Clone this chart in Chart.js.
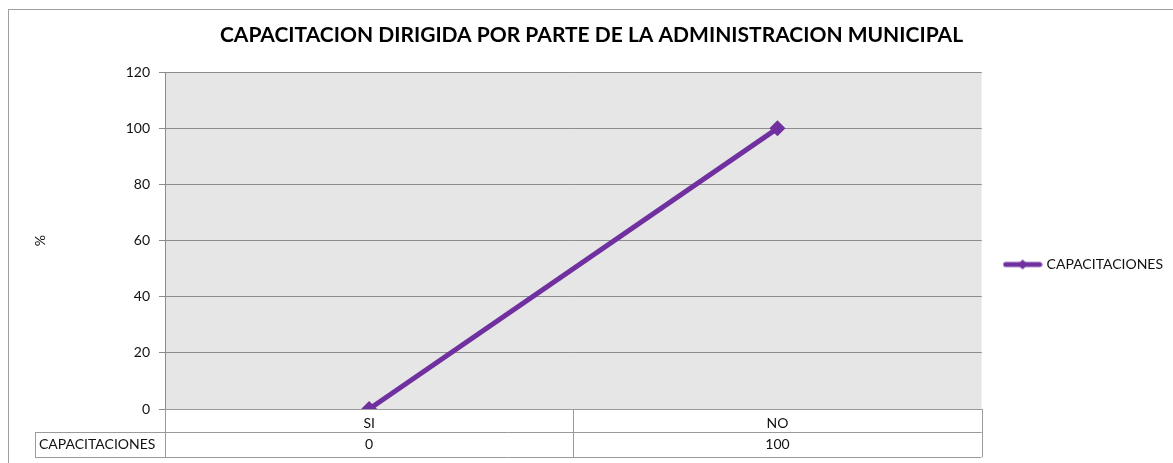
<!DOCTYPE html>
<html>
<head>
<meta charset="utf-8">
<script src="https://cdn.jsdelivr.net/npm/chart.js@4.4.1/dist/chart.umd.min.js"></script>
<style>
  html, body { margin: 0; padding: 0; background: #ffffff; }
  #wrap { width: 1173px; height: 463px; position: relative; }
</style>
</head>
<body>
<div id="wrap"><canvas id="capChart" width="1173" height="463"></canvas></div>
<script>
"use strict";
const categories = ["SI", "NO"];
const seriesName = "CAPACITACIONES";
const capValues = [0, 100];
const yTicks = [0, 20, 40, 60, 80, 100, 120];
const chartTitle = "CAPACITACION DIRIGIDA POR PARTE DE LA ADMINISTRACION MUNICIPAL";

const purple = "#7030a0";
const gridGray = "#8c8c8c";
const tableGray = "#9a9a9a";
const textColor = "#111111";
const fontName = "Lato, 'Open Sans', sans-serif";

// legend key: line with a diamond in the middle
const keyCanvas = document.createElement("canvas");
keyCanvas.width = 40;
keyCanvas.height = 12;
(function () {
    const k = keyCanvas.getContext("2d");
    k.strokeStyle = purple;
    k.lineWidth = 5;
    k.lineCap = "round";
    k.beginPath();
    k.moveTo(3, 6);
    k.lineTo(37, 6);
    k.stroke();
    k.fillStyle = purple;
    k.beginPath();
    k.moveTo(20, 1);
    k.lineTo(25, 6);
    k.lineTo(20, 11);
    k.lineTo(15, 6);
    k.closePath();
    k.fill();
})();

const framePlugin = {
    id: "frame",
    beforeDraw(chart) {
        const ctx = chart.ctx;
        const a = chart.chartArea;
        ctx.save();
        ctx.fillStyle = "#ffffff";
        ctx.fillRect(0, 0, chart.width, chart.height);
        ctx.strokeStyle = "#a0a0a0";
        ctx.lineWidth = 1;
        ctx.strokeRect(8.5, 9.5, chart.width + 20, chart.height + 20);
        ctx.fillStyle = "#e6e6e6";
        ctx.fillRect(a.left, a.top, a.right - a.left, a.bottom - a.top);
        ctx.restore();
    }
};

const tablePlugin = {
    id: "dataTable",
    afterDraw(chart) {
        const ctx = chart.ctx;
        const x = chart.scales.x;
        const a = chart.chartArea;
        const row1Top = a.bottom;
        const row2Top = a.bottom + 23;
        const row2Bottom = a.bottom + 48;
        const step = (a.right - a.left) / categories.length;
        const headerLeft = 35;
        ctx.save();
        ctx.strokeStyle = tableGray;
        ctx.lineWidth = 1;
        ctx.beginPath();
        // horizontal lines
        ctx.moveTo(a.left, row1Top + 0.5);
        ctx.lineTo(a.right, row1Top + 0.5);
        ctx.moveTo(headerLeft, row2Top + 0.5);
        ctx.lineTo(a.right, row2Top + 0.5);
        ctx.moveTo(headerLeft, row2Bottom + 0.5);
        ctx.lineTo(a.right, row2Bottom + 0.5);
        // vertical lines
        ctx.moveTo(headerLeft + 0.5, row2Top);
        ctx.lineTo(headerLeft + 0.5, row2Bottom);
        for (let i = 0; i <= categories.length; i++) {
            const px = Math.round(a.left + i * step) + 0.5;
            ctx.moveTo(px, row1Top);
            ctx.lineTo(px, row2Bottom);
        }
        ctx.stroke();
        ctx.fillStyle = textColor;
        ctx.font = "14px " + fontName;
        ctx.textBaseline = "middle";
        ctx.textAlign = "left";
        ctx.fillText(seriesName, headerLeft + 4, (row2Top + row2Bottom) / 2);
        ctx.textAlign = "center";
        capValues.forEach((v, i) => {
            ctx.fillText(String(v), x.getPixelForValue(i), (row2Top + row2Bottom) / 2);
        });
        ctx.restore();
    }
};

const capData = {
    labels: categories,
    datasets: [
        {
            label: seriesName,
            data: capValues,
            borderColor: purple,
            backgroundColor: purple,
            borderWidth: 5,
            pointStyle: "rectRot",
            pointRadius: 8,
            pointHoverRadius: 8,
            pointBorderWidth: 0,
            tension: 0,
        },
    ],
};

const capConfig = {
    type: "line",
    data: capData,
    plugins: [framePlugin, tablePlugin],
    options: {
        responsive: false,
        animation: false,
        layout: {
            padding: { left: 10, right: 0, top: 0, bottom: 6 },
        },
        plugins: {
            title: {
                display: true,
                text: chartTitle,
                color: "#000000",
                font: { family: fontName, size: 21, weight: "bold" },
                padding: { top: 23, bottom: 24 },
            },
            legend: {
                position: "right",
                title: {
                    display: true,
                    text: "",
                    font: { size: 10 },
                    padding: { top: 0, bottom: 60 },
                },
                labels: {
                    color: textColor,
                    font: { family: fontName, size: 14 },
                    padding: 24,
                    usePointStyle: true,
                    pointStyleWidth: 34,
                    generateLabels(chart) {
                        return chart.data.datasets.map((ds, i) => ({
                            text: ds.label,
                            fontColor: textColor,
                            pointStyle: keyCanvas,
                            fillStyle: purple,
                            strokeStyle: purple,
                            lineWidth: 0,
                            hidden: false,
                            datasetIndex: i,
                        }));
                    },
                },
            },
            tooltip: { enabled: false },
        },
        scales: {
            x: {
                offset: true,
                afterFit(scale) {
                    scale.height = 48;
                },
                grid: { display: false, drawTicks: false },
                border: { display: false },
                ticks: {
                    color: textColor,
                    padding: 6,
                    font: { family: fontName, size: 14 },
                },
            },
            y: {
                min: 0,
                max: 120,
                afterFit(scale) {
                    scale.width = 155;
                },
                afterBuildTicks(scale) {
                    scale.ticks = yTicks.map((v) => ({ value: v }));
                },
                title: {
                    display: true,
                    text: "%",
                    color: textColor,
                    font: { family: fontName, size: 14 },
                    padding: { top: 22 },
                },
                grid: {
                    color: gridGray,
                    tickLength: 6,
                },
                border: { display: true, color: gridGray },
                ticks: {
                    color: textColor,
                    padding: 9,
                    font: { family: fontName, size: 14 },
                },
            },
        },
    },
};

const capChart = new Chart(document.getElementById("capChart"), capConfig);
</script>
</body>
</html>
